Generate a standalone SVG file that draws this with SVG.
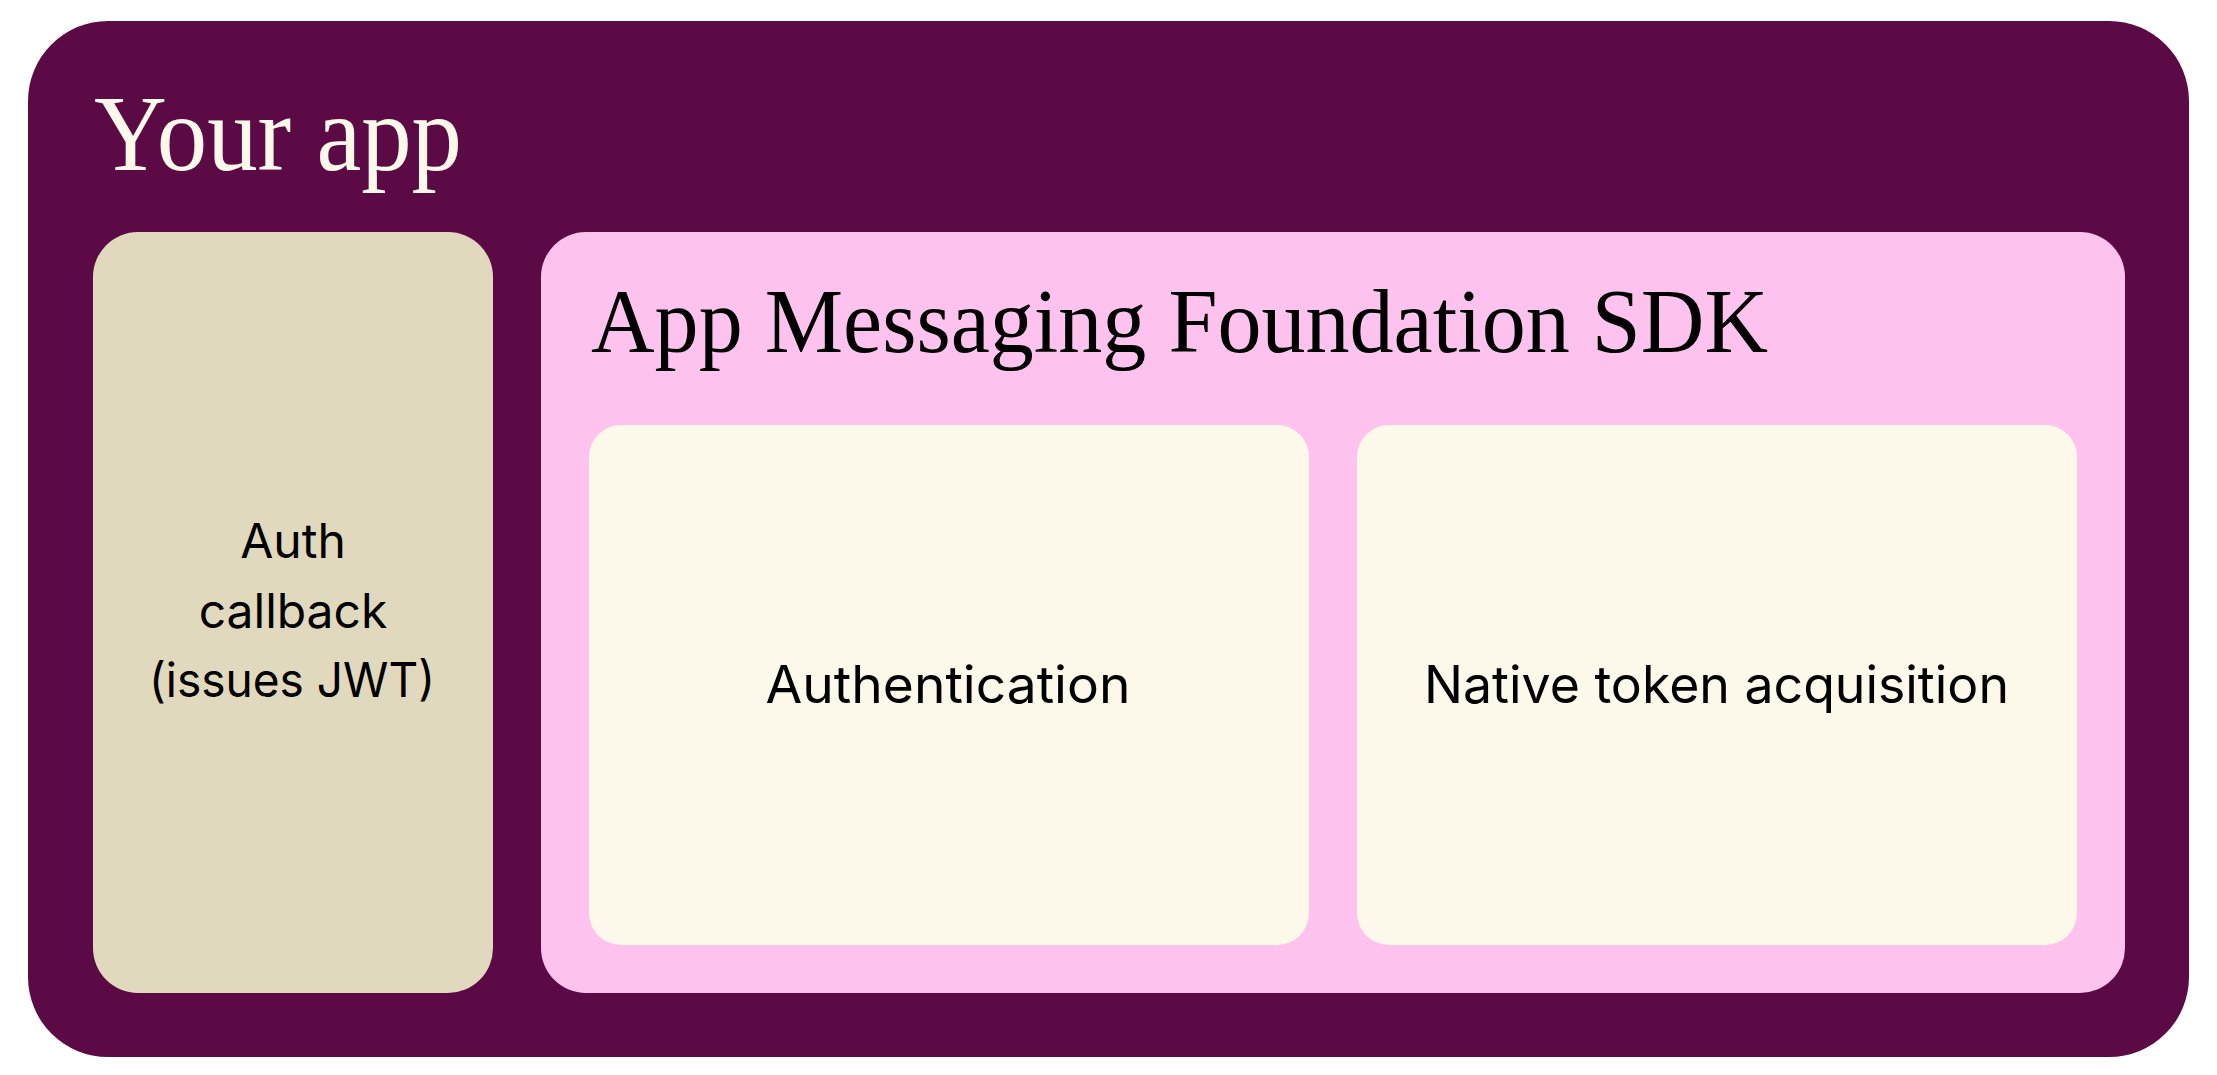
<svg xmlns="http://www.w3.org/2000/svg" width="2217" height="1075" viewBox="0 0 2217 1075">
  <style>
    .serif { font-family: "Liberation Serif", "DejaVu Serif", serif; }
    .sans { font-family: Inter, "Liberation Sans", "DejaVu Sans", sans-serif; font-weight: 400; fill: #000000; text-anchor: middle; }
  </style>
  <rect x="0" y="0" width="2217" height="1075" fill="#ffffff"/>
  <g id="your-app">
    <rect x="28" y="21" width="2161" height="1036" rx="80" ry="80" fill="#5C0A45"/>
    <text class="serif" x="94" y="170" font-size="108" fill="#FDF9EA" textLength="368" lengthAdjust="spacingAndGlyphs">Your app</text>
  </g>
  <g id="auth-callback">
    <rect x="93" y="232" width="400" height="761" rx="45" ry="45" fill="#E0D9BE"/>
    <text class="sans" x="293" y="558" font-size="48">Auth</text>
    <text class="sans" x="293" y="628" font-size="48">callback</text>
    <text class="sans" x="292" y="697" font-size="48" textLength="286" lengthAdjust="spacingAndGlyphs">(issues JWT)</text>
  </g>
  <g id="sdk">
    <rect x="541" y="232" width="1584" height="761" rx="45" ry="45" fill="#FEC2EE"/>
    <text class="serif" x="591" y="352" font-size="91" fill="#000000" textLength="1177" lengthAdjust="spacingAndGlyphs">App Messaging Foundation SDK</text>
  </g>
  <g id="authentication">
    <rect x="589" y="425" width="720" height="520" rx="32" ry="32" fill="#FDF9EA"/>
    <text class="sans" x="948" y="703" font-size="52" textLength="365" lengthAdjust="spacingAndGlyphs">Authentication</text>
  </g>
  <g id="native-token">
    <rect x="1357" y="425" width="720" height="520" rx="32" ry="32" fill="#FDF9EA"/>
    <text class="sans" x="1716.5" y="703" font-size="52" textLength="585" lengthAdjust="spacingAndGlyphs">Native token acquisition</text>
  </g>
  <g id="connectors"></g>
</svg>
